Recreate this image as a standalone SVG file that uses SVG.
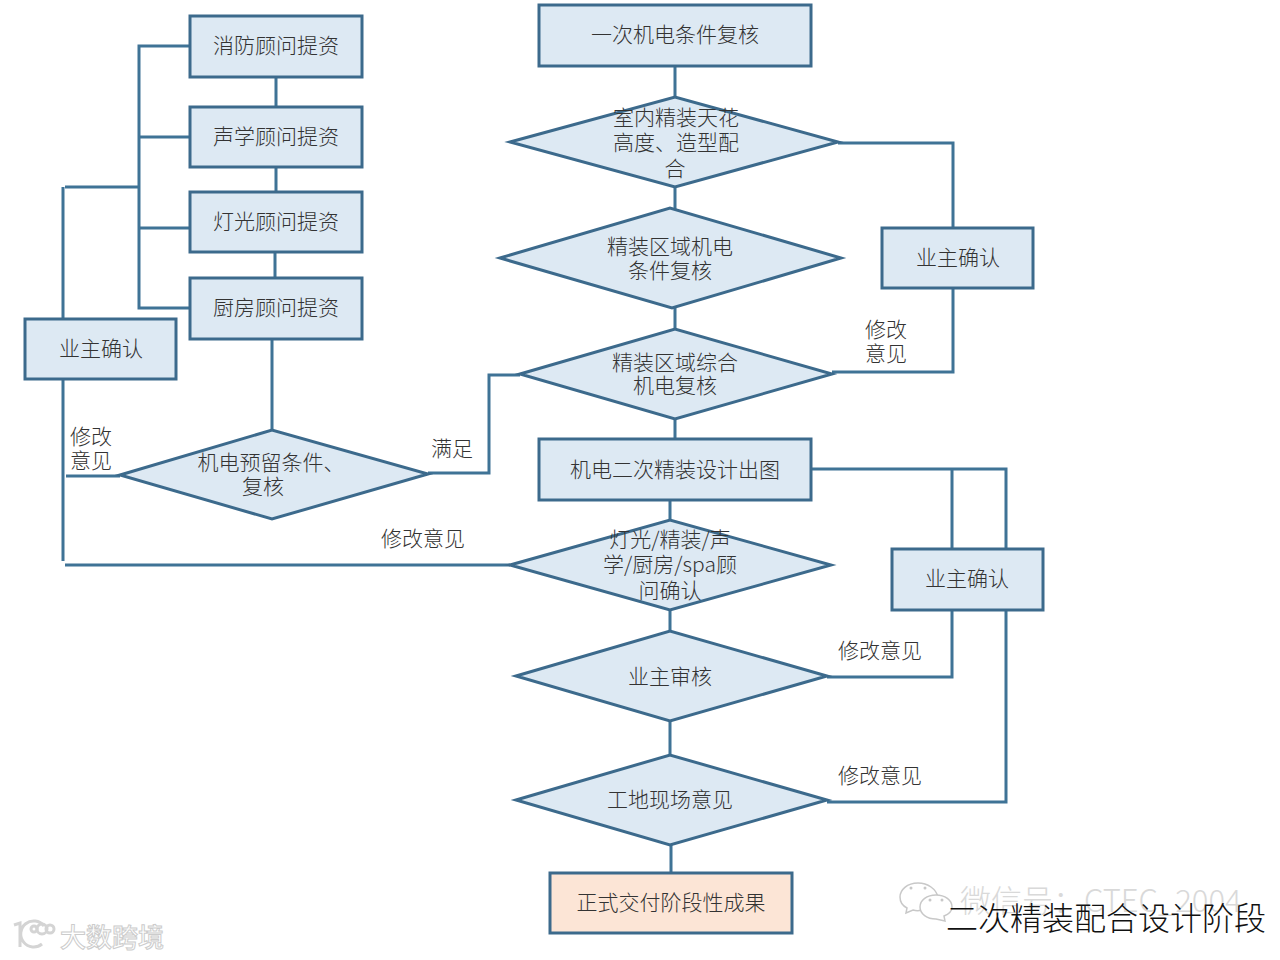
<svg xmlns="http://www.w3.org/2000/svg" width="1280" height="960" viewBox="0 0 1280 960">
<style>
.n{fill:#dde9f3;stroke:#3c6a8c;stroke-width:3}
.o{fill:#fce5d6;stroke:#3c6a8c;stroke-width:3}
.c{fill:none;stroke:#3f7396;stroke-width:3}
text{font-family:"Noto Sans CJK SC","Liberation Sans",sans-serif;font-size:21px;font-weight:300;fill:#333;text-anchor:middle}
.wm{fill:#d9d9d9;font-size:31px;text-anchor:start}
.wl{fill:#fff;stroke:#ccc;stroke-width:1;font-size:26px;font-weight:500;text-anchor:start}
.ttl{fill:#111;font-size:32px;text-anchor:start}
.ic{fill:#fff;stroke:#c8c8c8;stroke-width:1.5}
.dot{fill:#c8c8c8}
.lg{fill:none;stroke:#d4d4d4;stroke-width:3}
</style>
<rect width="1280" height="960" fill="#fff"/>
<g id="connectors">
<path class="c" d="M190 46H139V308H190M139 137H190M139 228H190M65 187H139"/>
<path class="c" d="M276 76V107M276 167V192M275 252V278M272 339V430"/>
<path class="c" d="M63 319V187M63 380V561M65 565H510M66 476H120"/>
<path class="c" d="M428 473H489V375H520"/>
<path class="c" d="M675 66V97M675 187V209M675 308V329M675 419V439M670 500V520M670 610V631M670 721V755M671 845V873"/>
<path class="c" d="M838 143H953V228M953 289V372H832"/>
<path class="c" d="M811 469H1006V549M952 469V549M952 610V677H827M1006 610V802H827"/>
</g>
<g id="n1"><rect class="n" x="190" y="16" width="172" height="61"/><text x="276" y="53">消防顾问提资</text></g>
<g id="n2"><rect class="n" x="190" y="107" width="172" height="60"/><text x="276" y="144">声学顾问提资</text></g>
<g id="n3"><rect class="n" x="190" y="192" width="172" height="60"/><text x="276" y="229">灯光顾问提资</text></g>
<g id="n4"><rect class="n" x="190" y="278" width="172" height="61"/><text x="276" y="315">厨房顾问提资</text></g>
<g id="n5"><rect class="n" x="25" y="319" width="151" height="60"/><text x="101" y="356">业主确认</text></g>
<g id="n6"><polygon class="n" points="120,475 272,430 428,474 272,519"/><text x="271" y="470">机电预留条件、</text><text x="263" y="494">复核</text></g>
<g id="n7"><rect class="n" x="539" y="5" width="272" height="61"/><text x="675" y="42">一次机电条件复核</text></g>
<g id="n8"><polygon class="n" points="510,142 675,97 838,142 675,187"/><text x="676" y="125">室内精装天花</text><text x="676" y="150">高度、造型配</text><text x="675" y="176">合</text></g>
<g id="n9"><polygon class="n" points="500,258 670,208 841,258 672,308"/><text x="670" y="254">精装区域机电</text><text x="670" y="278">条件复核</text></g>
<g id="n10"><polygon class="n" points="520,374 675,329 832,374 675,419"/><text x="675" y="370">精装区域综合</text><text x="675" y="393">机电复核</text></g>
<g id="n11"><rect class="n" x="539" y="439" width="272" height="61"/><text x="675" y="477">机电二次精装设计出图</text></g>
<g id="n12"><polygon class="n" points="510,565 670,520 831,565 670,610"/><text x="670" y="547">灯光/精装/声</text><text x="670" y="572">学/厨房/spa顾</text><text x="670" y="598">问确认</text></g>
<g id="n13"><polygon class="n" points="516,676 670,631 827,676 670,721"/><text x="670" y="684">业主审核</text></g>
<g id="n14"><polygon class="n" points="516,800 670,755 827,800 670,845"/><text x="670" y="807">工地现场意见</text></g>
<g id="n15"><rect class="o" x="550" y="873" width="242" height="60"/><text x="671" y="910">正式交付阶段性成果</text></g>
<g id="n16"><rect class="n" x="882" y="228" width="151" height="60"/><text x="958" y="265">业主确认</text></g>
<g id="n17"><rect class="n" x="892" y="549" width="151" height="61"/><text x="967" y="586">业主确认</text></g>
<g id="labels">
<text x="91" y="444">修改</text><text x="91" y="468">意见</text>
<text x="452" y="456">满足</text>
<text x="423" y="546">修改意见</text>
<text x="886" y="337">修改</text><text x="886" y="361">意见</text>
<text x="880" y="658">修改意见</text>
<text x="880" y="783">修改意见</text>
</g>
<g id="watermarks">
<path class="ic" d="M918 883c-11 0-18 7-18 14 0 5 3 9 7 11l-1 5 7-3c3 1 6 1 9 0 2-7 8-13 16-13-2-8-10-14-20-14z"/>
<circle class="dot" cx="911" cy="888" r="1.5"/><circle class="dot" cx="925" cy="888" r="1.5"/>
<path class="ic" d="M936 895c-9 0-16 5-16 12s7 12 16 12l9 2-1-5c5-2 8-5 8-9 0-7-7-12-16-12z"/>
<circle class="dot" cx="930" cy="900" r="1.5"/><circle class="dot" cx="942" cy="900" r="1.5"/>
<text class="wm" x="960" y="912">微信号：CTEC_2004</text>
<text class="ttl" x="946" y="930">二次精装配合设计阶段</text>
<path class="lg" d="M14 925l6-2v24M44 926a13 13 0 1 0-2 18"/>
<circle class="lg" cx="34" cy="929" r="3"/><circle class="lg" cx="42" cy="929" r="5"/><circle class="lg" cx="50" cy="929" r="4"/>
<text class="wl" x="60" y="947">大数跨境</text>
</g>
</svg>
